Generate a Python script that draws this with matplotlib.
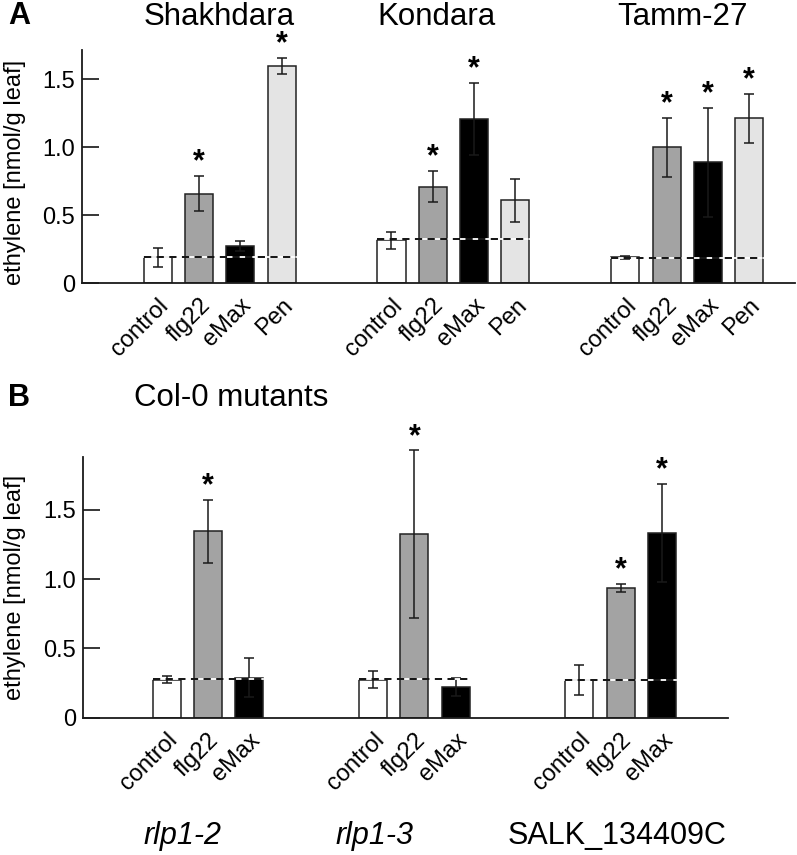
import numpy as np
import matplotlib
matplotlib.use('Agg')
import matplotlib.pyplot as plt

plt.rcParams['font.family'] = ['Liberation Sans', 'DejaVu Sans']

# panel A: accessions
acc_names = ['Shakhdara', 'Kondara', 'Tamm-27']
acc_treat = ['control', 'flg22', 'eMax', 'Pen']
acc_vals = [[0.19, 0.66, 0.275, 1.595],
            [0.315, 0.71, 1.21, 0.61],
            [0.19, 1.0, 0.89, 1.215]]
acc_err = [[0.07, 0.13, 0.035, 0.06],
           [0.06, 0.115, 0.265, 0.16],
           [0.01, 0.215, 0.40, 0.18]]
acc_sig = [[0, 1, 0, 1],
           [0, 1, 1, 0],
           [0, 1, 1, 1]]
acc_base = [0.19, 0.322, 0.187]

# panel B: Col-0 mutants
mut_names = ['rlp1-2', 'rlp1-3', 'SALK_134409C']
mut_italic = [True, True, False]
mut_treat = ['control', 'flg22', 'eMax']
mut_vals = [[0.275, 1.345, 0.29],
            [0.275, 1.325, 0.225],
            [0.272, 0.935, 1.335]]
mut_err = [[0.025, 0.225, 0.14],
           [0.06, 0.605, 0.065],
           [0.11, 0.03, 0.355]]
mut_sig = [[0, 1, 0],
           [0, 1, 0],
           [0, 1, 1]]
mut_base = [0.277, 0.277, 0.272]

colors = {'control': 'white', 'flg22': '#a3a3a3', 'eMax': 'black', 'Pen': '#e4e4e4'}
W = 0.68
H, V = 797, 855  # figure size in pixels


def draw_panel(ax, names, treats, vals, errs, sigs, bases, gap):
    ticks, labels = [], []
    for g in range(len(names)):
        x = g * gap + np.arange(len(treats))
        cols = [colors[t] for t in treats]
        ax.bar(x, vals[g], width=W, color=cols, edgecolor='#222222', linewidth=1.1, zorder=2)
        ax.errorbar(x, vals[g], yerr=errs[g], fmt='none', ecolor='#1a1a1a',
                    elinewidth=1.1, capsize=3.5, capthick=1.1, zorder=3)
        xl = [x[0] - W / 2, x[-1] + W / 2]
        ax.plot(xl, [bases[g]] * 2, color='white', lw=1.3, zorder=4)
        ax.plot(xl, [bases[g]] * 2, color='black', lw=1.3, ls=(0, (4, 3)), zorder=5)
        for i in range(len(treats)):
            if sigs[g][i]:
                ax.annotate('*', (x[i], vals[g][i] + errs[g][i]), xytext=(0, -1),
                            textcoords='offset points', ha='center', va='bottom',
                            fontsize=22, fontweight='bold', annotation_clip=False)
        ticks += list(x)
        labels += treats
    ax.set_xticks(ticks)
    ax.set_xticklabels(labels, rotation=45, ha='right', rotation_mode='anchor', fontsize=17)
    ax.tick_params(axis='x', length=0, pad=8)
    ax.tick_params(axis='y', direction='in', length=12, width=1.1, labelsize=17, pad=5)
    for s in ['top', 'right']:
        ax.spines[s].set_visible(False)
    for s in ['left', 'bottom']:
        ax.spines[s].set_linewidth(1.3)
        ax.spines[s].set_color('#1a1a1a')
    ax.set_yticks([0, 0.5, 1.0, 1.5])
    ax.set_yticklabels(['0', '0.5', '1.0', '1.5'])
    ax.set_ylabel('ethylene [nmol/g leaf]', fontsize=17, va='center')


fig = plt.figure(figsize=(H / 100, V / 100), dpi=100)

# panel A
axA = fig.add_axes([81.7 / H, 1 - 283.3 / V, (795 - 81.7) / H, (283.3 - 50) / V])
draw_panel(axA, acc_names, acc_treat, acc_vals, acc_err, acc_sig, acc_base, 5.66)
axA.set_xlim(-1.84, 15.43)
axA.set_ylim(0, 1.715)
axA.yaxis.set_label_coords((15 - 81.7) / (795 - 81.7), 0.475)
for name, xp in zip(acc_names, [219, 436.5, 682]):
    fig.text(xp / H, 1 - 17 / V, name, ha='center', va='center', fontsize=22.5)

# panel B (spine stops below the top of the tallest error bar)
yB0, pxB = 717.7, 138.5
axB = fig.add_axes([83.3 / H, 1 - yB0 / V, (728 - 83.3) / H, 2.0 * pxB / V])
draw_panel(axB, mut_names, mut_treat, mut_vals, mut_err, mut_sig, mut_base, 5.0)
axB.set_xlim(-2.02, 13.6)
axB.set_ylim(0, 2.0)
axB.spines['left'].set_bounds(0, 1.885)
axB.yaxis.set_label_coords((15 - 83.3) / (728 - 83.3), (yB0 - 587) / (2.0 * pxB))
for name, xp, it in zip(mut_names, [183, 374, 617.5], mut_italic):
    fig.text(xp / H, 1 - 836 / V, name, ha='center', va='center', fontsize=22,
             style='italic' if it else 'normal')

fig.text(8 / H, 1 - 16 / V, 'A', fontsize=22, fontweight='bold', va='center')
fig.text(8 / H, 1 - 398 / V, 'B', fontsize=22, fontweight='bold', va='center')
fig.text(231 / H, 1 - 398 / V, 'Col-0 mutants', fontsize=22.5, ha='center', va='center')

fig.savefig('out.png', dpi=100, facecolor='white')
